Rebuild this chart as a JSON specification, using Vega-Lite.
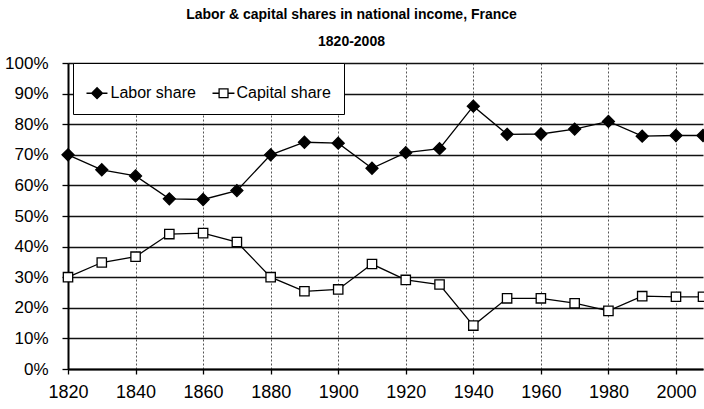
{
  "$schema": "https://vega.github.io/schema/vega-lite/v6.json",
  "width": 635,
  "height": 306,
  "autosize": {"type": "none"},
  "padding": {"left": 68, "top": 63, "right": 1, "bottom": 40},
  "background": "white",
  "title": {
    "text": ["Labor & capital shares in national income, France", "1820-2008"],
    "anchor": "middle",
    "frame": "group",
    "dx": -34,
    "offset": 5,
    "font": "Liberation Sans",
    "fontSize": 14,
    "fontWeight": "bold",
    "lineHeight": 27,
    "color": "black"
  },
  "config": {
    "view": {"stroke": null},
    "axis": {"labelFont": "Liberation Sans", "labelColor": "black", "domainColor": "black", "tickColor": "black"},
    "legend": {
      "title": null, "orient": "none", "legendX": 5, "legendY": 0, "direction": "horizontal",
      "strokeColor": "black", "fillColor": "white", "padding": 12.5,
      "symbolSize": 1089, "symbolStrokeColor": "black", "symbolStrokeWidth": 1.3,
      "labelFont": "Liberation Sans", "labelFontSize": 16, "labelColor": "black",
      "labelOffset": -10, "columnPadding": 13
    }
  },
  "data": {
    "values": [
      {"year": 1820, "series": "Labor share", "share": 0.700},
      {"year": 1830, "series": "Labor share", "share": 0.651},
      {"year": 1840, "series": "Labor share", "share": 0.631},
      {"year": 1850, "series": "Labor share", "share": 0.556},
      {"year": 1860, "series": "Labor share", "share": 0.554},
      {"year": 1870, "series": "Labor share", "share": 0.583},
      {"year": 1880, "series": "Labor share", "share": 0.700},
      {"year": 1890, "series": "Labor share", "share": 0.741},
      {"year": 1900, "series": "Labor share", "share": 0.738},
      {"year": 1910, "series": "Labor share", "share": 0.656},
      {"year": 1920, "series": "Labor share", "share": 0.707},
      {"year": 1930, "series": "Labor share", "share": 0.720},
      {"year": 1940, "series": "Labor share", "share": 0.859},
      {"year": 1950, "series": "Labor share", "share": 0.767},
      {"year": 1960, "series": "Labor share", "share": 0.768},
      {"year": 1970, "series": "Labor share", "share": 0.784},
      {"year": 1980, "series": "Labor share", "share": 0.809},
      {"year": 1990, "series": "Labor share", "share": 0.761},
      {"year": 2000, "series": "Labor share", "share": 0.763},
      {"year": 2008, "series": "Labor share", "share": 0.763},
      {"year": 1820, "series": "Capital share", "share": 0.300},
      {"year": 1830, "series": "Capital share", "share": 0.348},
      {"year": 1840, "series": "Capital share", "share": 0.367},
      {"year": 1850, "series": "Capital share", "share": 0.441},
      {"year": 1860, "series": "Capital share", "share": 0.444},
      {"year": 1870, "series": "Capital share", "share": 0.415},
      {"year": 1880, "series": "Capital share", "share": 0.300},
      {"year": 1890, "series": "Capital share", "share": 0.254},
      {"year": 1900, "series": "Capital share", "share": 0.260},
      {"year": 1910, "series": "Capital share", "share": 0.343},
      {"year": 1920, "series": "Capital share", "share": 0.291},
      {"year": 1930, "series": "Capital share", "share": 0.276},
      {"year": 1940, "series": "Capital share", "share": 0.142},
      {"year": 1950, "series": "Capital share", "share": 0.231},
      {"year": 1960, "series": "Capital share", "share": 0.231},
      {"year": 1970, "series": "Capital share", "share": 0.215},
      {"year": 1980, "series": "Capital share", "share": 0.190},
      {"year": 1990, "series": "Capital share", "share": 0.238},
      {"year": 2000, "series": "Capital share", "share": 0.236},
      {"year": 2008, "series": "Capital share", "share": 0.236}
    ]
  },
  "encoding": {
    "x": {
      "field": "year", "type": "quantitative",
      "scale": {"domain": [1820, 2008], "nice": false, "zero": false},
      "axis": {
        "title": null, "values": [1820, 1840, 1860, 1880, 1900, 1920, 1940, 1960, 1980, 2000],
        "format": "d", "labelFontSize": 18, "labelPadding": 9, "tickSize": 5, "tickWidth": 1.3,
        "domainWidth": 2, "grid": true, "gridDash": [2, 2], "gridColor": "#555555", "gridWidth": 1,
        "labelFlush": false, "labelOverlap": false
      }
    },
    "y": {
      "field": "share", "type": "quantitative",
      "scale": {"domain": [0, 1], "nice": false},
      "axis": {
        "title": null, "values": [0, 0.1, 0.2, 0.3, 0.4, 0.5, 0.6, 0.7, 0.8, 0.9, 1.0],
        "format": ".0%", "labelFontSize": 17, "labelPadding": 14, "tickSize": 6, "tickWidth": 1.3,
        "domainWidth": 2, "grid": true, "gridColor": "#111111", "gridWidth": 1.3,
        "labelFlush": false, "labelOverlap": false
      }
    }
  },
  "layer": [
    {
      "mark": {"type": "line", "color": "black", "strokeWidth": 1.3},
      "encoding": {"detail": {"field": "series"}}
    },
    {
      "transform": [{"filter": "datum.series === 'Labor share'"}],
      "mark": {"type": "point", "filled": true, "stroke": "black", "strokeWidth": 1.3, "size": 144, "opacity": 1, "shape": "M0,-1L1,0L0,1L-1,0Z"},
      "encoding": {
        "fill": {
          "field": "series", "type": "nominal",
          "scale": {"domain": ["Labor share", "Capital share"], "range": ["black", "white"]},
          "legend": {
            "symbolType": {"expr": "datum.value === 'Labor share' ? 'M-1,0H0.27M-0.36,-0.33L-0.03,0L-0.36,0.33L-0.69,0Z' : 'M-1,0H-0.6M-0.06,0H0.33M-0.6,-0.27H-0.06V0.27H-0.6Z'"},
            "encode": {
              "legend": {"update": {"strokeWidth": {"value": 1.5}}},
              "symbols": {
                "stroke": {"value": "black"},
                "strokeWidth": {"value": 1.3},
                "opacity": {"value": 1}
              }
            }
          }
        }
      }
    },
    {
      "transform": [{"filter": "datum.series === 'Capital share'"}],
      "mark": {"type": "point", "filled": true, "stroke": "black", "strokeWidth": 1.3, "size": 144, "opacity": 1, "shape": "M-0.78,-0.78H0.78V0.78H-0.78Z"},
      "encoding": {
        "fill": {
          "field": "series", "type": "nominal",
          "scale": {"domain": ["Labor share", "Capital share"], "range": ["black", "white"]}
        }
      }
    }
  ]
}
